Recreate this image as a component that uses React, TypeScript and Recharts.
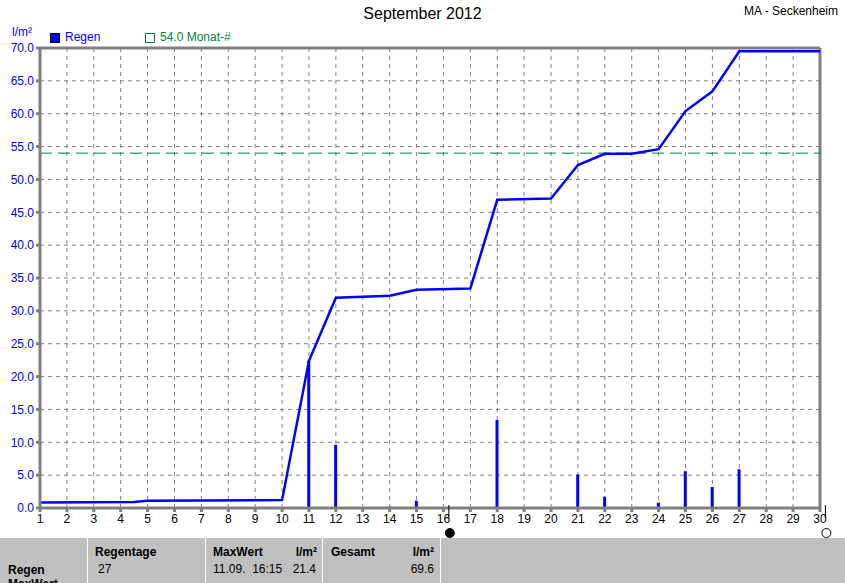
import { ComposedChart, Line, Bar, XAxis, YAxis, CartesianGrid, ReferenceLine, ReferenceDot } from 'recharts';

// Tagessummen Regen (l/m²), Tag 1..30
const DAYS = Array.from({ length: 30 }, (_, i) => i + 1);
const RAIN = [0, 0, 0, 0, 0.1, 0, 0, 0, 0, 0, 22.4, 9.6, 0, 0.2, 1.1, 0.1, 0, 13.4, 0.1, 0, 5.1, 1.7, 0, 0.8, 5.6, 3.2, 5.9, 0, 0, 0.1];

// Summenkurve (Tag, l/m²)
const CUM_DAY = [1, 4.5, 5, 10, 11, 12, 14, 15, 17, 18, 20, 21, 22, 23, 24, 25, 26, 27, 30];
const CUM_VAL = [0.85, 0.9, 1.1, 1.2, 22.4, 32.0, 32.3, 33.2, 33.4, 46.9, 47.1, 52.2, 53.9, 53.9, 54.6, 60.4, 63.4, 69.5, 69.5];

const Y_TICKS = [0, 5, 10, 15, 20, 25, 30, 35, 40, 45, 50, 55, 60, 65, 70];
const MONTH_AVG = 54.0;

const chartData = DAYS.map((d, i) => ({ day: d, rain: RAIN[i] }));
const cumData = CUM_DAY.map((d, i) => ({ day: d, cum: CUM_VAL[i] }));

const FONT = '"Liberation Sans", Arial, sans-serif';
const BLUE = '#0000ff';
const GREEN = '#007f3f';
const GRAY = '#808080';

function MoonMarker(props: any, filled: boolean) {
  const { cx, cy } = props;
  return (
    <g>
      <line x1={cx} y1={cy - 3} x2={cx} y2={cy + 10} stroke="#000" strokeWidth={1} />
      <circle cx={cx + 1} cy={cy + 25} r={4.5} fill={filled ? '#000' : '#fff'} stroke="#000" strokeWidth={1} />
    </g>
  );
}

const cell = (x: number, y: number, text: string, bold = false, align: 'left' | 'right' = 'left') => (
  <div
    style={{
      position: 'absolute',
      left: align === 'left' ? x : undefined,
      right: align === 'right' ? 845 - x : undefined,
      top: y,
      fontSize: 12,
      fontWeight: bold ? 'bold' : 'normal',
      color: '#000',
      whiteSpace: 'pre',
    }}
  >
    {text}
  </div>
);

export default function App() {
  return (
    <div style={{ position: 'absolute', left: 0, top: 0, width: 845, height: 583, background: '#fff', fontFamily: FONT, overflow: 'hidden' }}>
      <div style={{ position: 'absolute', left: 0, width: 845, top: 5, textAlign: 'center', fontSize: 16 }}>September 2012</div>
      <div style={{ position: 'absolute', right: 7, top: 4, fontSize: 12, whiteSpace: 'nowrap' }}>MA - Seckenheim</div>
      <div style={{ position: 'absolute', left: 12, top: 25, fontSize: 12, color: BLUE }}>
        l/m²
      </div>
      <div style={{ position: 'absolute', left: 50, top: 33, width: 8, height: 8, background: BLUE, border: '1px solid #000' }} />
      <div style={{ position: 'absolute', left: 65, top: 30, fontSize: 12, color: BLUE }}>Regen</div>
      <div style={{ position: 'absolute', left: 145, top: 33, width: 8, height: 8, border: `1px solid ${GREEN}` }} />
      <div style={{ position: 'absolute', left: 160, top: 30, fontSize: 12, color: GREEN }}>54.0 Monat-#</div>

      <div style={{ position: 'absolute', left: 0, top: 0 }}>
        <ComposedChart width={845} height={540} data={chartData} margin={{ top: 48, right: 25, left: 0, bottom: 2 }}>
          <CartesianGrid stroke={GRAY} strokeDasharray="4 4" />
          <XAxis
            dataKey="day"
            type="number"
            domain={[1, 30]}
            ticks={DAYS}
            interval={0}
            height={30}
            stroke={GRAY}
            strokeWidth={3}
            tickSize={4}
            tick={{ fill: '#000', fontSize: 12, fontFamily: FONT }}
            allowDataOverflow
          />
          <YAxis
            type="number"
            domain={[0, 70]}
            ticks={Y_TICKS}
            width={40}
            stroke={GRAY}
            strokeWidth={3}
            tickSize={4}
            tickFormatter={(v: number) => v.toFixed(1)}
            tick={{ fill: BLUE, fontSize: 12, fontFamily: FONT }}
          />
          <ReferenceLine y={70} stroke={GRAY} strokeWidth={3} />
          <ReferenceLine x={30} stroke={GRAY} strokeWidth={3} />
          <ReferenceLine y={MONTH_AVG} stroke={GREEN} strokeDasharray="12 6" strokeWidth={1} />
          <Bar dataKey="rain" fill={BLUE} barSize={3} isAnimationActive={false} />
          <Line
            data={cumData}
            dataKey="cum"
            type="linear"
            stroke={BLUE}
            strokeWidth={2.5}
            dot={false}
            activeDot={false}
            isAnimationActive={false}
          />
          <ReferenceDot x={16.2} y={0} ifOverflow="visible" shape={(p: any) => MoonMarker(p, true)} />
          <ReferenceDot x={30.2} y={0} ifOverflow="visible" shape={(p: any) => MoonMarker(p, false)} />
        </ComposedChart>
      </div>

      <div style={{ position: 'absolute', left: 0, top: 538, width: 845, height: 45, background: '#c0c0c0' }}>
        {[87, 205, 322, 440].map((x) => (
          <div key={x} style={{ position: 'absolute', left: x, top: 0, width: 1, height: 45, background: '#fff' }} />
        ))}
        {cell(8, 25, 'Regen', true)}
        {cell(8, 39, 'MaxWert', true)}
        {cell(95, 7, 'Regentage', true)}
        {cell(98, 24, '27')}
        {cell(213, 7, 'MaxWert', true)}
        {cell(317, 7, 'l/m²', true, 'right')}
        {cell(213, 24, '11.09.  16:15')}
        {cell(316, 24, '21.4', false, 'right')}
        {cell(331, 7, 'Gesamt', true)}
        {cell(434, 7, 'l/m²', true, 'right')}
        {cell(434, 24, '69.6', false, 'right')}
      </div>
    </div>
  );
}
